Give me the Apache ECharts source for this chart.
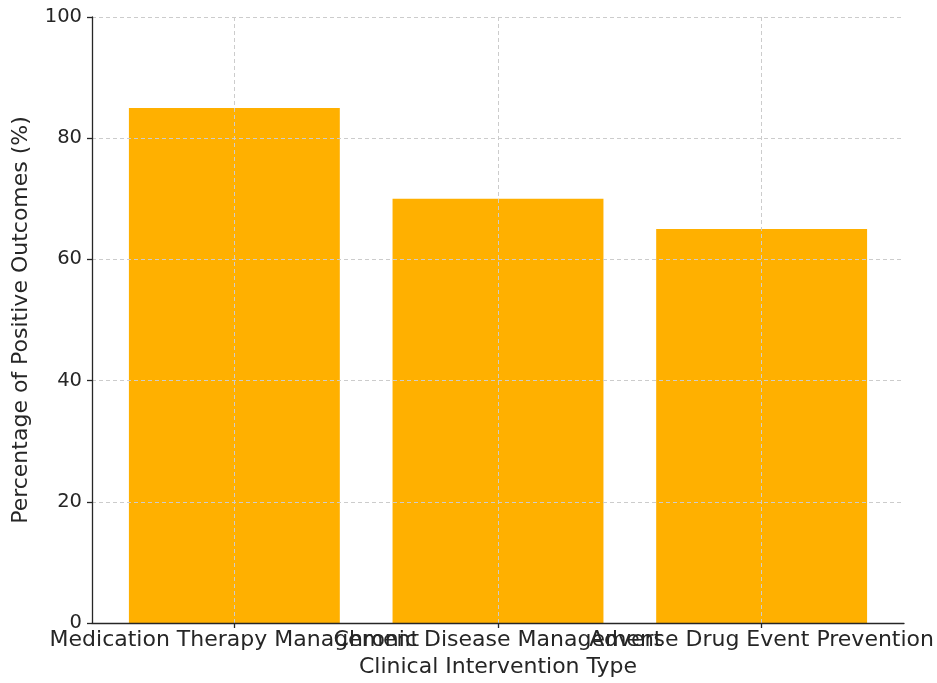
<!DOCTYPE html>
<html>
<head>
<meta charset="utf-8">
<script src="https://cdn.jsdelivr.net/npm/echarts@6/dist/echarts.min.js"></script>
<style>
  html, body { margin: 0; padding: 0; background: #fff; }
  #chart { width: 937px; height: 683px; }
</style>
</head>
<body>
<div id="chart"></div>
<script>
// Intervention categories and their share of positive outcomes (%)
const categories = [
  'Medication Therapy Management',
  'Chronic Disease Management',
  'Adverse Drug Event Prevention'
];
const outcomes = [85, 70, 65];
const yTicks = [0, 20, 40, 60, 80, 100];

const positions = categories.map((_, i) => i);
const textColor = '#262626';
const font = 'DejaVu Sans';
const xMin = -0.54, xMax = positions[positions.length - 1] + 0.54;

// Labels that collide with their neighbours are split across two stacked
// bottom axes so that every category name stays visible.
const outerLabels = positions.filter(i => i % 2 === 0);
const innerLabels = positions.filter(i => i % 2 === 1);

const labelStyle = {
  formatter: v => categories[Math.round(v)] || '',
  fontFamily: font, fontSize: 22, color: textColor, margin: 6,
  hideOverlap: false, showMinLabel: true, showMaxLabel: true
};

const chart = echarts.init(document.getElementById('chart'), null, { renderer: 'canvas' });

chart.setOption({
  backgroundColor: '#ffffff',
  animation: false,
  grid: { left: 92, right: 32, top: 17, bottom: 59, containLabel: false },
  xAxis: [{
    type: 'value',
    min: xMin,
    max: xMax,
    position: 'bottom',
    offset: 0,
    z: 3,
    name: 'Clinical Intervention Type',
    nameLocation: 'middle',
    nameGap: 33,
    nameTextStyle: { fontFamily: font, fontSize: 22, color: textColor },
    axisLine: { show: true, onZero: false, lineStyle: { color: textColor, width: 1.3 } },
    axisTick: { show: true, length: 5, customValues: positions, lineStyle: { color: textColor, width: 1.3 } },
    axisLabel: Object.assign({ customValues: outerLabels }, labelStyle),
    splitLine: { show: true, lineStyle: { color: '#cccccc', type: [4, 3], width: 1 } }
  }, {
    type: 'value',
    min: xMin,
    max: xMax,
    position: 'bottom',
    offset: 0,
    z: 3,
    axisLine: { show: false, onZero: false },
    axisTick: { show: false, customValues: innerLabels },
    axisLabel: Object.assign({ customValues: innerLabels }, labelStyle),
    splitLine: { show: false }
  }],
  yAxis: {
    type: 'value',
    min: yTicks[0],
    max: yTicks[yTicks.length - 1],
    interval: 20,
    z: 3,
    name: 'Percentage of Positive Outcomes (%)',
    nameLocation: 'middle',
    nameGap: 60,
    nameTextStyle: { fontFamily: font, fontSize: 22, color: textColor },
    axisLine: { show: true, onZero: false, lineStyle: { color: textColor, width: 1.3 } },
    axisTick: { show: true, length: 5, lineStyle: { color: textColor, width: 1.3 } },
    axisLabel: {
      fontFamily: font, fontSize: 19.5, color: textColor, margin: 10,
      showMinLabel: true, showMaxLabel: true
    },
    splitLine: { show: true, lineStyle: { color: '#cccccc', type: [4, 3], width: 1 } }
  },
  series: [{
    type: 'bar',
    xAxisIndex: 0,
    z: 2,
    barWidth: '80%',
    itemStyle: { color: '#ffb000' },
    data: outcomes.map((v, i) => [positions[i], v])
  }]
});
</script>
</body>
</html>
